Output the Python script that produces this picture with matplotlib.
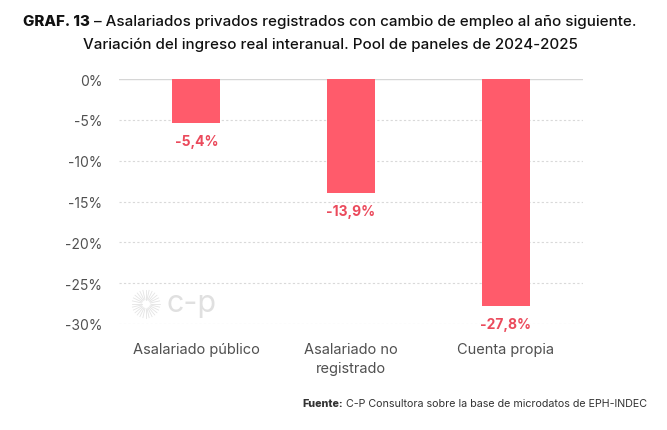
import numpy as np
import matplotlib
matplotlib.use("Agg")
import matplotlib.pyplot as plt

# datos del gráfico
categorias = ["Asalariado público", "Asalariado no\nregistrado", "Cuenta propia"]
variacion = [-5.4, -13.9, -27.8]
etiquetas = ["-5,4%", "-13,9%", "-27,8%"]
ticks_y = [0, -5, -10, -15, -20, -25, -30]

BAR_COLOR = "#FF5B6B"
LABEL_COLOR = "#EB4A5C"
TEXT_COLOR = "#505050"

plt.rcParams["font.family"] = ["Inter", "DejaVu Sans"]

fig = plt.figure(figsize=(6.67, 4.31), dpi=100)
ax = fig.add_axes([119 / 667, 1 - 325 / 431, 464 / 667, 245 / 431])

x = np.arange(len(categorias))
ax.bar(x, variacion, width=0.31, color=BAR_COLOR, zorder=3)

for xi, v, lab in zip(x, variacion, etiquetas):
    ax.annotate(lab, (xi, v), xytext=(0, -13), textcoords="offset points",
                ha="center", va="center", color=LABEL_COLOR,
                fontsize=10, fontweight="bold", zorder=4)

ax.set_xlim(-0.5, 2.5)
ax.set_ylim(-30, 0)
ax.set_yticks(ticks_y)
ax.set_yticklabels([f"{t}%" for t in ticks_y])
ax.set_xticks(x)
ax.set_xticklabels(categorias, fontsize=10.5, linespacing=1.45)

for t in ticks_y[1:]:
    ax.axhline(t, color="#D9D9D9", linestyle=(0, (2, 2)), linewidth=0.8, zorder=1)
ax.axhline(0, color="#D6D6D6", linewidth=1.0, zorder=2)

for s in ax.spines.values():
    s.set_visible(False)
ax.tick_params(axis="both", length=0, colors=TEXT_COLOR, labelsize=10)
ax.tick_params(axis="x", labelsize=10.5, pad=13)
ax.tick_params(axis="y", pad=12)

# logo c-p (marca de agua)
cx, cy = 146, 305
ang = np.linspace(0, 2 * np.pi, 28, endpoint=False)
for a in ang:
    r0, r1 = 4.5, 14.0
    fig.add_artist(plt.Line2D([(cx + r0 * np.cos(a)) / 667, (cx + r1 * np.cos(a)) / 667],
                              [1 - (cy + r0 * np.sin(a)) / 431, 1 - (cy + r1 * np.sin(a)) / 431],
                              transform=fig.transFigure, color="#E4E4E4", linewidth=0.6))
fig.text(166 / 667, 1 - 304 / 431, "c-p", ha="left", va="center", fontsize=22,
         color="#E0E0E0")

# título: parte en negrita + resto
renderer = fig.canvas.get_renderer()


def texto_mixto(x0, y0, negrita, resto, size, color, centrado=False, derecha=False):
    t1 = fig.text(0, y0, negrita, ha="left", va="center", fontsize=size,
                  fontweight="heavy", color=color)
    t2 = fig.text(0, y0, resto, ha="left", va="center", fontsize=size,
                  fontweight="normal" if size < 9 else "medium", color=color)
    w1 = t1.get_window_extent(renderer).width / fig.bbox.width
    w2 = t2.get_window_extent(renderer).width / fig.bbox.width
    if centrado:
        start = x0 - (w1 + w2) / 2
    elif derecha:
        start = x0 - (w1 + w2)
    else:
        start = x0
    t1.set_x(start)
    t2.set_x(start + w1)


texto_mixto(0.495, 1 - 22 / 431, "GRAF. 13",
            " – Asalariados privados registrados con cambio de empleo al año siguiente.",
            10.9, "#111111", centrado=True)
fig.text(0.495, 1 - 45 / 431,
         "Variación del ingreso real interanual. Pool de paneles de 2024-2025",
         ha="center", va="center", fontsize=10.9, color="#111111", fontweight="medium")

# fuente
texto_mixto(647 / 667, 1 - 404 / 431, "Fuente:",
            " C-P Consultora sobre la base de microdatos de EPH-INDEC",
            7.7, "#333333", derecha=True)

fig.savefig("out.png", dpi=100, facecolor="white")
